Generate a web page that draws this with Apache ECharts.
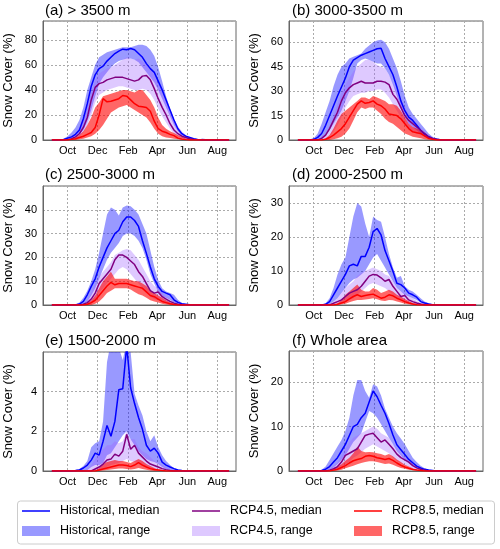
<!DOCTYPE html>
<html><head><meta charset="utf-8">
<script src="https://cdn.jsdelivr.net/npm/echarts@6/dist/echarts.min.js"></script>
<style>html,body{margin:0;padding:0;background:#fff}#c{width:500px;height:549px}</style>
</head><body><div id="c"></div>
<script>
// x positions (day of hydrological year, 0 = 1 Sep), 8-day steps
const days = [-2,6,14,22,30,38,46,54,62,70,78,86,94,102,110,118,126,134,142,150,158,166,174,182,190,198,206,214,222,230,238,246,254,262,270,278,286,294,302,310,318,326,334,342,350,358];
const monthTicks = [30, 91, 153, 212, 273, 334];
const monthLabels = ['Oct', 'Dec', 'Feb', 'Apr', 'Jun', 'Aug'];
const panelTitles = ['(a) > 3500 m', '(b) 3000-3500 m', '(c) 2500-3000 m', '(d) 2000-2500 m', '(e) 1500-2000 m', '(f) Whole area'];
const yMax = [95, 73, 50, 35, 6, 27];
const yStep = [20, 15, 10, 10, 2, 10];
const scenarioNames = ['Historical', 'RCP4.5', 'RCP8.5'];

// ---- (a) > 3500 m
const histMed_a = [0,0,0.2,0.5,1.5,2.5,4.5,8,17,29, 43,52,57,59,63,66,69,71,72.5,72, 73,72,69,66,61,57,54,47,40,32, 24,16,9,5,3,2,1,0.5,0.3,0.2, 0.1,0,0,0,0,0];
const histUp_a  = [0,0,0.3,1,3,6,10,16,26,40, 50,60,66,68,70,71,72,73,74,74, 74,75,76,76,75,72,67,58,47,35, 25,17,10,6,3.5,2,1.2,0.6,0.3,0.1, 0,0,0,0,0,0];
const histLo_a  = [0,0,0,0,0.5,1.5,3,5,8,15, 24,35,45,50,54,58,61,63,64,65, 65,64,62,58,54,50,46,40,33,26, 19,12,7,3.5,2,1,0.5,0.2,0,0, 0,0,0,0,0,0];
const r45Med_a  = [0,0,0,0,0.3,1,2.5,5,10,18, 32,42,45,46,48,49,50,50,50,49, 48,47,48,51,51.5,48,41,33,26,20, 13,8,5,3,2,1,0.5,0.2,0,0, 0,0,0,0,0,0];
const r45Up_a   = [0,0,0,0,0.5,2,5,10,17,27, 38,48,53,55,57,58,60,62,64,66, 65,64,65,63,60,57,52,46,38,31, 24,17,11,7,4,2.5,1.5,0.5,0.2,0, 0,0,0,0,0,0];
const r45Lo_a   = [0,0,0,0,0,0.5,1.5,3,6,12, 20,30,36,38,40,41,42,43,43,42, 41,40,40,41,40,37,32,25,19,14, 9,5,3,1.5,0.8,0.3,0,0,0,0, 0,0,0,0,0,0];
const r85Med_a  = [0,0,0,0,0,0.5,1,2,3,4.5, 6,10,20,33,30.5,31,32,33,35.5,35, 32,29,27,26.5,26,23,15,9,7,6, 4.5,3.5,1.5,0.7,0.3,0,0,0,0,0, 0,0,0,0,0,0];
const r85Up_a   = [0,0,0,0,0,1,2,4,7,12, 18,26,30,35,36,37,38,39,40,40, 39,38,40,40,36,32,26,18,12,9, 7,5.5,4,2.5,1.2,0.5,0,0,0,0, 0,0,0,0,0,0];
const r85Lo_a   = [0,0,0,0,0,0,0,0.5,1,2, 3,5,8,12,17,22,24,26,27,28, 26,24,22,20,18,14,9,5,3,2, 1.5,1,0.5,0.2,0,0,0,0,0,0, 0,0,0,0,0,0];

// ---- (b) 3000-3500 m
const histMed_b = [0,0,0,0,0.4,1.6,4,9,15,21, 27,32.5,38,45,49,50.5,52,53,54,55, 56,56.3,50,45,40,32.5,24,18,14,12, 9,6,3.7,2,1,0.4,0.2,0,0,0, 0,0,0,0,0,0];
const histUp_b  = [0,0,0,0,1,4,10,17,24,33, 40,45,47,50,51,52,53,56,58,60, 61,61.5,60,56,50,44,36,27,20,16, 13,10,7,4,2,1,0.4,0,0,0, 0,0,0,0,0,0];
const histLo_b  = [0,0,0,0,0,0,1,3,6,10, 14,18,24,30,38,47,49,50,49,48, 47,47,44,40,34,27,20,14,10,8, 6,4,2,1,0.3,0,0,0,0,0, 0,0,0,0,0,0];
const r45Med_b  = [0,0,0,0,0,0,1,3,7,12, 17,24,29,32,34,35,36,35,35,35, 36,36,35.5,34,28,25,20,15,12,10, 8,6,4,2,1,0.4,0,0,0,0, 0,0,0,0,0,0];
const r45Up_b   = [0,0,0,0,0,0,2,4,9,15, 22,29,34,38,42,45,47,49,49,48, 46,45,44,40,35,30,25,20,16,13, 10,7,5,3,1.5,0.5,0,0,0,0, 0,0,0,0,0,0];
const r45Lo_b   = [0,0,0,0,0,0,0,0,2,5, 9,14,20,24,27,28,29,29,30,30, 31,31,29,26,22,18,14,10,7,5, 4,3,2,1,0.3,0,0,0,0,0, 0,0,0,0,0,0];
const r85Med_b  = [0,0,0,0,0,0,0,0.5,1.5,3, 5,7,10,14,18,22,24,22.5,23,24, 22,21,19,16,15.5,15,13,10,7,5, 4.5,4,2.5,1,0.4,0,0,0,0,0, 0,0,0,0,0,0];
const r85Up_b   = [0,0,0,0,0,0,0,1,3,7, 12,16,18,20,22,24,26,26,25,27, 26,25,24,22,22,21,18,14,10,8, 7,6,4,2,1,0.3,0,0,0,0, 0,0,0,0,0,0];
const r85Lo_b   = [0,0,0,0,0,0,0,0,0,0.5, 1,2,4,7,12,17,20,19,20,20, 18,16,13,11,10,8,6,4,3,2, 1.5,1,0.5,0.2,0,0,0,0,0,0, 0,0,0,0,0,0];

// ---- (c) 2500-3000 m
const histMed_c = [0,0,0,0,0,0,0,0.4,1.5,4.3, 7.8,11,16,20,24,27,30,31.4,35,37, 37,35.5,33,27,21.7,16,11,7.8,5.7,5, 4.3,2.2,1.1,0.5,0.3,0.1,0,0,0,0, 0,0,0,0,0,0];
const histUp_c  = [0,0,0,0,0,0,0.3,1,3,6, 10,15,22,30,38,41,40,37.6,41,41.8, 41.5,40,38,34,30,23,16,10.5,7,5.7, 5,4.3,2.2,0.8,0.3,0.15,0,0,0,0, 0,0,0,0,0,0];
const histLo_c  = [0,0,0,0,0,0,0,0,0,1.5, 4,7,11,15,19,22,24,26,29,30, 30,29,27,24,19,13,9,5.7,3.6,3, 2.2,1.1,0.4,0,0,0,0,0,0,0, 0,0,0,0,0,0];
const r45Med_c  = [0,0,0,0,0,0,0,0,0.3,1, 2.5,5,9,11,13,15,19,21,21,20, 18.5,17,14,12,9,6,5,5.5,3.5,2.5, 1.5,0.8,0.3,0,0,0,0,0,0,0, 0,0,0,0,0,0];
const r45Up_c   = [0,0,0,0,0,0,0,0,0.5,2, 5,9,12,14,16,18,21,22,23,23.5, 23,21,19,16,13,10,8,7,5,3.5, 2.5,1.5,0.6,0.2,0,0,0,0,0,0, 0,0,0,0,0,0];
const r45Lo_c   = [0,0,0,0,0,0,0,0,0,0, 0.5,2,5,7,9,11,13,15,16,15, 13,11,9,7,5,3.5,2.5,2,1.2,0.7, 0.3,0,0,0,0,0,0,0,0,0, 0,0,0,0,0,0];
const r85Med_c  = [0,0,0,0,0,0,0,0,0,0.3, 1,2,4,6,8,9.5,8.5,9,9,9, 8.5,8,7.5,7,5.5,4,3.5,2.5,1.5,1, 0.5,0.2,0,0,0,0,0,0,0,0, 0,0,0,0,0,0];
const r85Up_c   = [0,0,0,0,0,0,0,0,0,0.8, 2,4,7,10,12,14,11,11,11,11, 10.5,10,10,9,8,6,5,4,3,2, 1.2,0.5,0,0,0,0,0,0,0,0, 0,0,0,0,0,0];
const r85Lo_c   = [0,0,0,0,0,0,0,0,0,0, 0,0.5,1.5,3,5,6,7,7,7,7, 6.5,5.5,4.5,4,3,2,1.5,1,0.5,0.2, 0,0,0,0,0,0,0,0,0,0, 0,0,0,0,0,0];

// ---- (d) 2000-2500 m
const histMed_d = [0,0,0,0,0,0,0,0.2,1,3, 5,7,9,11.5,12,11.5,14.3,14.3,17,21.6, 22.5,20.6,16,13,9.9,6.4,6,5,3.5,3, 2.3,1,0.6,0.3,0.1,0,0,0,0,0, 0,0,0,0,0,0];
const histUp_d  = [0,0,0,0,0,0,0,0.5,2,5, 9,12,14,20,26,30,29,24,20,26, 25,24.5,20,15,11,8,8.5,5.5,4.5,4, 3,2,1,0.5,0.2,0,0,0,0,0, 0,0,0,0,0,0];
const histLo_d  = [0,0,0,0,0,0,0,0,0.2,1, 2,3.5,5,6.5,7.5,8,9,10,12,14, 15,13,11,9,7,5,4,3,2.5,2, 1.5,0.8,0.3,0,0,0,0,0,0,0, 0,0,0,0,0,0];
const r45Med_d  = [0,0,0,0,0,0,0,0,0,0.5, 1,1.5,2.5,3.5,4,4.5,5.5,7,8.5,9, 8.8,8,7,7.5,5.5,4,2.5,2.8,1.5,1, 0.6,0.3,0.1,0,0,0,0,0,0,0, 0,0,0,0,0,0];
const r45Up_d   = [0,0,0,0,0,0,0,0,0,1, 2,3.5,5,6,7,8.5,9.5,10,10.5,11, 10.5,10,9,8.5,7,5,4,3.5,2.5,2, 1.2,0.6,0.2,0,0,0,0,0,0,0, 0,0,0,0,0,0];
const r45Lo_d   = [0,0,0,0,0,0,0,0,0,0, 0.3,0.6,1,1.5,2,3,4,5,6,6.5, 6,5.5,5,4,3,2,1.5,1,0.6,0.3, 0.1,0,0,0,0,0,0,0,0,0, 0,0,0,0,0,0];
const r85Med_d  = [0,0,0,0,0,0,0,0,0,0, 0.2,0.6,1,1.8,2.5,3,2.5,2.8,3,3.2, 2.6,2,2.3,3,2.7,2,1.5,1,0.6,0.3, 0.1,0,0,0,0,0,0,0,0,0, 0,0,0,0,0,0];
const r85Up_d   = [0,0,0,0,0,0,0,0,0,0, 0.5,1.5,3,4,5,6,4.5,4,4,5, 4.5,3.5,4,4.5,4,3,2.5,1.8,1.2,0.6, 0.3,0,0,0,0,0,0,0,0,0, 0,0,0,0,0,0];
const r85Lo_d   = [0,0,0,0,0,0,0,0,0,0, 0,0.2,0.4,0.8,1.2,1.5,1.5,1.6,1.8,2, 1.7,1.3,1.2,1.5,1.4,1,0.7,0.4,0.2,0.1, 0,0,0,0,0,0,0,0,0,0, 0,0,0,0,0,0];

// ---- (e) 1500-2000 m
const histMed_e = [0,0,0,0,0,0,0.02,0.05,0.15,0.3, 0.55,0.9,0.8,1.5,2.3,1.75,2.5,4.1,4.15,6.3, 4.2,3.4,2.7,2.1,1.3,1.0,1.15,0.9,0.45,0.3, 0.2,0.12,0.05,0.02,0,0,0,0,0,0, 0,0,0,0,0,0];
const histUp_e  = [0,0,0,0,0,0,0.05,0.1,0.25,0.5, 1.2,1.4,1.5,2.5,5.5,6.5,6.5,6.2,5.6,6.5, 6.0,3.9,3.3,2.8,2.0,1.5,1.8,1.2,0.8,0.5, 0.3,0.15,0.07,0.03,0,0,0,0,0,0, 0,0,0,0,0,0];
const histLo_e  = [0,0,0,0,0,0,0,0,0,0.05, 0.2,0.3,0.3,0.4,0.8,0.9,1.2,1.5,1.8,2.0, 1.6,1.3,1.0,0.8,0.6,0.5,0.45,0.35,0.2,0.1, 0.05,0,0,0,0,0,0,0,0,0, 0,0,0,0,0,0];
const r45Med_e  = [0,0,0,0,0,0,0,0,0,0, 0,0.1,0.2,0.35,0.55,0.6,0.85,0.75,1.0,1.85, 1.1,1.3,0.9,0.7,0.5,0.35,0.28,0.2,0.12,0.07, 0.03,0,0,0,0,0,0,0,0,0, 0,0,0,0,0,0];
const r45Up_e   = [0,0,0,0,0,0,0,0,0,0.1, 0.3,0.6,0.9,1.1,1.3,1.3,1.5,1.4,1.5,2.0, 1.6,1.6,1.2,1.0,0.9,0.7,0.5,0.4,0.3,0.2, 0.1,0.05,0,0,0,0,0,0,0,0, 0,0,0,0,0,0];
const r45Lo_e   = [0,0,0,0,0,0,0,0,0,0, 0,0,0.05,0.1,0.2,0.3,0.35,0.4,0.5,0.6, 0.5,0.45,0.35,0.25,0.2,0.15,0.1,0.07,0.04,0, 0,0,0,0,0,0,0,0,0,0, 0,0,0,0,0,0];
const r85Med_e  = [0,0,0,0,0,0,0,0,0,0, 0,0,0.05,0.1,0.15,0.2,0.25,0.3,0.3,0.28, 0.22,0.3,0.42,0.3,0.2,0.12,0.08,0.05,0.02,0, 0,0,0,0,0,0,0,0,0,0, 0,0,0,0,0,0];
const r85Up_e   = [0,0,0,0,0,0,0,0,0,0, 0,0,0.15,0.35,0.45,0.5,0.55,0.5,0.5,0.45, 0.4,0.5,0.6,0.5,0.35,0.25,0.15,0.08,0.04,0, 0,0,0,0,0,0,0,0,0,0, 0,0,0,0,0,0];
const r85Lo_e   = [0,0,0,0,0,0,0,0,0,0, 0,0,0,0.02,0.05,0.08,0.1,0.12,0.12,0.1, 0.08,0.1,0.15,0.1,0.06,0.03,0,0,0,0, 0,0,0,0,0,0,0,0,0,0, 0,0,0,0,0,0];

// ---- (f) Whole area
const histMed_f = [0,0,0,0,0,0,0.1,0.4,1,2, 3,4.5,6,8,10,10.5,12,13,15.5,18, 16.7,14.8,13,10.7,8.1,5.9,4.8,3.7,2.6,1.85, 1.1,0.67,0.37,0.2,0.1,0,0,0,0,0, 0,0,0,0,0,0];
const histUp_f  = [0,0,0,0,0,0,0.3,1,2.5,4, 5.5,7,9,12,17,20.5,20.5,18,16.5,19.5, 19,17,14,12,10,8.5,7.3,6,4.5,3, 2,1.2,0.6,0.3,0.15,0,0,0,0,0, 0,0,0,0,0,0];
const histLo_f  = [0,0,0,0,0,0,0,0,0.3,0.8, 1.5,2.5,3.5,5,6.5,7.5,8.5,11,13.5,13, 12,10.5,9,7.5,6,4.5,3.5,2.5,1.8,1.2, 0.7,0.4,0.2,0.1,0,0,0,0,0,0, 0,0,0,0,0,0];
const r45Med_f  = [0,0,0,0,0,0,0,0,0.2,0.5, 1,2,3.5,4,4.5,5,6.5,8,8.3,8.5, 7.5,6.5,7,6,5,3.8,3,2.5,2,1.2, 0.7,0.4,0.2,0,0,0,0,0,0,0, 0,0,0,0,0,0];
const r45Up_f   = [0,0,0,0,0,0,0,0,0.5,1.2, 2,3.5,5,6.5,7.5,8,8.5,9,9.5,10, 9.5,8.5,8,7.5,6,5,4,3.2,2.5,1.8, 1.1,0.6,0.3,0,0,0,0,0,0,0, 0,0,0,0,0,0];
const r45Lo_f   = [0,0,0,0,0,0,0,0,0,0.2, 0.4,0.8,1.5,2,3,3.5,4.2,5,5.5,6, 5.5,5,4.5,4,3,2.2,1.7,1.3,0.9,0.5, 0.3,0.1,0,0,0,0,0,0,0,0, 0,0,0,0,0,0];
const r85Med_f  = [0,0,0,0,0,0,0,0,0,0.2, 0.4,0.8,1.2,1.8,2.3,2.6,2.8,3.3,3.5,3.3, 3,2.8,2.6,2.8,2.4,1.8,1.3,0.9,0.6,0.35, 0.2,0.1,0,0,0,0,0,0,0,0, 0,0,0,0,0,0];
const r85Up_f   = [0,0,0,0,0,0,0,0,0,0.5, 1,1.5,2.3,3,4,5.5,4.5,4.2,4.3,4.2, 4,3.8,3.5,3.8,3.3,2.6,2,1.4,1,0.6, 0.35,0.2,0,0,0,0,0,0,0,0, 0,0,0,0,0,0];
const r85Lo_f   = [0,0,0,0,0,0,0,0,0,0, 0.1,0.3,0.6,0.9,1.2,1.5,1.8,2,2.2,2.2, 2,1.8,1.6,1.7,1.4,1,0.7,0.5,0.3,0.2, 0.1,0,0,0,0,0,0,0,0,0, 0,0,0,0,0,0];

// panel -> scenario -> [lower, median, upper]
const panelData = [
  [[histLo_a, histMed_a, histUp_a], [r45Lo_a, r45Med_a, r45Up_a], [r85Lo_a, r85Med_a, r85Up_a]],
  [[histLo_b, histMed_b, histUp_b], [r45Lo_b, r45Med_b, r45Up_b], [r85Lo_b, r85Med_b, r85Up_b]],
  [[histLo_c, histMed_c, histUp_c], [r45Lo_c, r45Med_c, r45Up_c], [r85Lo_c, r85Med_c, r85Up_c]],
  [[histLo_d, histMed_d, histUp_d], [r45Lo_d, r45Med_d, r45Up_d], [r85Lo_d, r85Med_d, r85Up_d]],
  [[histLo_e, histMed_e, histUp_e], [r45Lo_e, r45Med_e, r45Up_e], [r85Lo_e, r85Med_e, r85Up_e]],
  [[histLo_f, histMed_f, histUp_f], [r45Lo_f, r45Med_f, r45Up_f], [r85Lo_f, r85Med_f, r85Up_f]]
];

// ---- styling / layout
const FONT = "'Liberation Sans', Arial, Helvetica, sans-serif";
const lineColors = ['#0000ff', '#800080', '#ff0000'];
const bandColors = ['rgba(0,0,255,0.4)', 'rgba(160,100,255,0.35)', 'rgba(255,0,0,0.6)'];
const gridBoxes = [[43,21,193,119],[289,21,194,119],[43,186,193,119],[289,186,194,119],[43,352,193,119],[289,351,194,120]];
const titlePos = [[45,3],[292,3],[45,167],[292,167],[45,333],[292,333]];
const legendX = [22, 192, 354];

const grid = [], xAxis = [], yAxis = [], title = [], series = [];
gridBoxes.forEach((b, g) => {
  grid.push({left: b[0], top: b[1], width: b[2], height: b[3], show: true, borderColor: '#666', borderWidth: 1, backgroundColor: 'transparent'});
  xAxis.push({
    type: 'value', gridIndex: g, min: -20, max: 372,
    axisLine: {show: true, onZero: false, lineStyle: {color: '#666'}},
    axisTick: {show: false, customValues: monthTicks},
    axisLabel: {customValues: monthTicks, formatter: v => monthLabels[monthTicks.indexOf(v)] || '', fontSize: 11, color: '#000', margin: 5, fontFamily: FONT},
    splitLine: {show: true, lineStyle: {color: '#aaa', type: [2, 2], width: 1}}
  });
  yAxis.push({
    type: 'value', gridIndex: g, min: 0, max: yMax[g], interval: yStep[g],
    name: 'Snow Cover (%)', nameLocation: 'middle', nameGap: 28,
    nameTextStyle: {fontSize: 13, color: '#000', fontFamily: FONT},
    axisLine: {show: true, onZero: false, lineStyle: {color: '#666'}},
    axisTick: {show: false},
    axisLabel: {fontSize: 11, color: '#000', margin: 6, showMaxLabel: false, fontFamily: FONT},
    splitLine: {show: true, lineStyle: {color: '#aaa', type: [2, 2], width: 1}}
  });
  title.push({text: panelTitles[g], left: titlePos[g][0], top: titlePos[g][1], padding: 0,
    textStyle: {fontSize: 15, fontWeight: 'normal', color: '#000', fontFamily: FONT}});

  const pd = panelData[g];
  // range bands
  pd.forEach((sc, k) => {
    const lo = sc[0], up = sc[2];
    series.push({
      type: 'custom', name: scenarioNames[k] + ', range', xAxisIndex: g, yAxisIndex: g,
      silent: true, clip: true, z: 2, itemStyle: {color: bandColors[k]},
      data: days.map((d, i) => [d, lo[i], up[i]]),
      encode: {x: 0, y: [1, 2]},
      renderItem: (params, api) => {
        if (params.dataIndex !== 0) return null;
        const topPts = days.map((d, i) => api.coord([d, up[i]]));
        const botPts = days.map((d, i) => api.coord([d, lo[i]])).reverse();
        const cs = params.coordSys;
        return {
          type: 'polygon', shape: {points: topPts.concat(botPts)},
          style: {fill: bandColors[k]},
          clipPath: {type: 'rect', shape: {x: cs.x, y: cs.y, width: cs.width, height: cs.height}}
        };
      }
    });
  });
  // median lines
  pd.forEach((sc, k) => {
    const med = sc[1];
    series.push({
      type: 'line', name: scenarioNames[k] + ', median', xAxisIndex: g, yAxisIndex: g,
      symbol: 'none', silent: true, z: 3, clip: true,
      lineStyle: {width: 1.5, color: lineColors[k]}, itemStyle: {color: lineColors[k]},
      data: days.map((d, i) => [d, med[i]])
    });
  });
});

const legend = [];
scenarioNames.forEach((n, k) => {
  legend.push({left: legendX[k], top: 504.5, padding: 0, itemWidth: 28, itemHeight: 1.5, icon: 'rect', selectedMode: false,
    textStyle: {fontSize: 12.5, color: '#000', fontFamily: FONT, padding: [0, 0, 0, 5]},
    data: [{name: n + ', median', icon: 'rect', itemStyle: {color: lineColors[k], borderWidth: 0}}]});
  legend.push({left: legendX[k], top: 524.5, padding: 0, itemWidth: 28, itemHeight: 10, icon: 'rect', selectedMode: false,
    textStyle: {fontSize: 12.5, color: '#000', fontFamily: FONT, padding: [0, 0, 0, 5]},
    data: [{name: n + ', range', icon: 'rect', itemStyle: {color: bandColors[k], borderWidth: 0}}]});
});

const chart = echarts.init(document.getElementById('c'), null, {renderer: 'canvas'});
chart.setOption({
  animation: false,
  backgroundColor: '#fff',
  textStyle: {fontFamily: FONT},
  title, grid, xAxis, yAxis, legend, series,
  graphic: [{type: 'rect', z: -10, silent: true, shape: {x: 17.5, y: 501, width: 477, height: 43, r: 3},
    style: {fill: '#fff', stroke: '#ccc', lineWidth: 1}}]
});
</script>
</body></html>
